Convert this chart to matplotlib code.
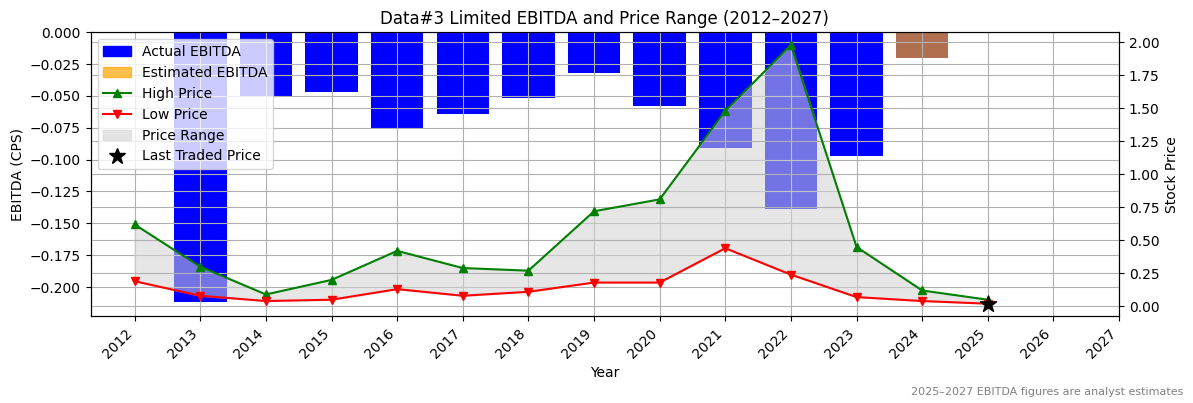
import matplotlib
matplotlib.use("Agg")
import matplotlib.pyplot as plt
from matplotlib.patches import Patch
from matplotlib.lines import Line2D

years = list(range(2012, 2028))
bar_years = [2013, 2014, 2015, 2016, 2017, 2018, 2019, 2020, 2021, 2022, 2023]
ebitda = [-0.212, -0.051, -0.047, -0.075, -0.064, -0.052, -0.032, -0.058, -0.091, -0.139, -0.097]
est_years = [2024]
est_ebitda = [-0.020]
price_years = list(range(2012, 2026))
high = [0.62, 0.30, 0.09, 0.20, 0.42, 0.29, 0.27, 0.72, 0.81, 1.48, 1.98, 0.45, 0.12, 0.05]
low = [0.19, 0.08, 0.04, 0.05, 0.13, 0.08, 0.11, 0.18, 0.18, 0.44, 0.24, 0.07, 0.04, 0.02]
last_year, last_price = 2025, 0.02

fig, ax = plt.subplots(figsize=(11.93, 4.03), dpi=100)
ax.bar(bar_years, ebitda, color="blue", width=0.8)
ax.bar(est_years, est_ebitda, color="#b07050", width=0.8)
ax.set_ylim(-0.223, 0)
ax.set_ylabel("EBITDA (CPS)")
ax.set_xlabel("Year")
ax.set_xticks(years)
ax.set_xticklabels([str(y) for y in years], rotation=45, ha="right")
ax.set_xlim(2011.33, 2027.0)
ax.grid(True)

ax2 = ax.twinx()
ax2.fill_between(price_years, low, high, color="lightgray", alpha=0.55)
ax2.plot(price_years, high, color="green", marker="^")
ax2.plot(price_years, low, color="red", marker="v")
ax2.scatter([last_year], [last_price], marker="*", s=150, color="black", zorder=5)
ax2.set_ylim(-0.076, 2.076)
ax2.set_ylabel("Stock Price")
ax2.grid(True)

handles = [Patch(color="blue"), Patch(color="orange", alpha=0.7),
           Line2D([], [], color="green", marker="^"), Line2D([], [], color="red", marker="v"),
           Patch(color="lightgray", alpha=0.6),
           Line2D([], [], color="black", marker="*", linestyle="None", markersize=12)]
labels = ["Actual EBITDA", "Estimated EBITDA", "High Price", "Low Price", "Price Range", "Last Traded Price"]
ax2.legend(handles, labels, loc="upper left")
ax.set_title("Data#3 Limited EBITDA and Price Range (2012–2027)")
fig.text(0.992, 0.02, "2025–2027 EBITDA figures are analyst estimates", ha="right", fontsize=8, color="gray")
fig.subplots_adjust(left=0.076, right=0.938, top=0.92, bottom=0.215)
fig.savefig("out.png")
